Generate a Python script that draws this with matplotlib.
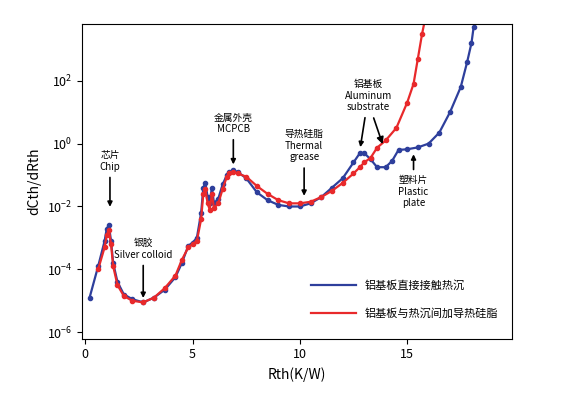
import numpy as np
import matplotlib
matplotlib.use('Agg')
import matplotlib.pyplot as plt
from matplotlib.lines import Line2D

plt.rcParams['font.family'] = ['Noto Sans CJK SC', 'DejaVu Sans']

# blue: aluminium substrate directly on heat sink
bx = [0.2, 0.6, 0.9, 1.0, 1.1, 1.2, 1.3, 1.5, 1.8, 2.2, 2.7, 3.2, 3.7, 4.2, 4.5, 4.8, 5.0, 5.2,
      5.4, 5.5, 5.6, 5.7, 5.8, 5.9, 6.0, 6.2, 6.4, 6.6, 6.7, 6.9, 7.1, 7.5, 8.0, 8.5, 9.0, 9.5,
      10.0, 10.5, 11.0, 11.5, 12.0, 12.5, 12.8, 13.0, 13.3, 13.6, 14.0, 14.3, 14.6, 15.0, 15.5,
      16.0, 16.5, 17.0, 17.5, 17.8, 18.0, 18.1]
by_log = [-4.9, -3.9, -3.1, -2.7, -2.6, -3.1, -3.8, -4.4, -4.8, -4.95, -5.05, -4.9, -4.65, -4.25,
          -3.8, -3.25, -3.15, -3.0, -2.2, -1.4, -1.25, -1.7, -1.9, -1.4, -1.9, -1.75, -1.3, -1.0,
          -0.9, -0.85, -0.9, -1.1, -1.55, -1.8, -1.95, -2.0, -2.0, -1.9, -1.7, -1.4, -1.1, -0.6,
          -0.3, -0.3, -0.5, -0.75, -0.75, -0.55, -0.2, -0.18, -0.12, 0.0, 0.35, 1.0, 1.8, 2.6,
          3.2, 3.7]

# red: aluminium substrate + thermal grease
rx = [0.6, 0.9, 1.0, 1.1, 1.2, 1.3, 1.5, 1.8, 2.2, 2.7, 3.2, 3.7, 4.2, 4.5, 4.8, 5.0, 5.2,
      5.4, 5.5, 5.6, 5.7, 5.8, 5.9, 6.0, 6.2, 6.4, 6.6, 6.7, 6.9, 7.1, 7.5, 8.0, 8.5, 9.0, 9.5,
      10.0, 10.5, 11.0, 11.5, 12.0, 12.5, 12.8, 13.0, 13.3, 13.6, 14.0, 14.5, 15.0, 15.3, 15.5,
      15.7, 15.85]
ry_log = [-4.0, -3.3, -2.9, -2.75, -3.2, -3.9, -4.5, -4.85, -5.0, -5.05, -4.9, -4.6, -4.2,
          -3.7, -3.3, -3.2, -3.1, -2.4, -1.6, -1.45, -1.9, -2.1, -1.6, -2.05, -1.9, -1.45, -1.05,
          -0.95, -0.9, -0.95, -1.05, -1.35, -1.6, -1.8, -1.9, -1.9, -1.85, -1.7, -1.5, -1.25,
          -0.95, -0.75, -0.6, -0.45, -0.13, 0.1, 0.5, 1.3, 1.9, 2.7, 3.5, 4.0]

labels = ['铝基板直接接触热沉', '铝基板与热沉间加导热硅脂']
blue = '#2e3f9c'
red = '#e8292b'

fig, ax = plt.subplots(figsize=(5.66, 4.03), dpi=100)
fig.subplots_adjust(left=0.145, right=0.905, top=0.94, bottom=0.16)
ax.plot(bx, 10 ** np.array(by_log), '-o', color=blue, ms=3, lw=1.6)
ax.plot(rx, 10 ** np.array(ry_log), '-o', color=red, ms=3, lw=1.6)
ax.set_yscale('log')
ax.set_xlim(-0.15, 19.9)
ax.set_ylim(10 ** -6.2, 10 ** 3.8)
ax.set_xticks([0, 5, 10, 15])
ax.set_yticks([1e-6, 1e-4, 1e-2, 1, 1e2])
ax.minorticks_off()
ax.set_xlabel('Rth(K/W)', fontsize=10)
ax.set_ylabel('dCth/dRth', fontsize=10)
ax.tick_params(labelsize=9)

ann = [('芯片\nChip', 1.15, 10 ** -2.1, 1.15, 10 ** -0.9),
       ('银胶\nSilver colloid', 2.7, 10 ** -5.0, 2.7, 10 ** -3.7),
       ('金属外壳\nMCPCB', 6.9, 10 ** -0.75, 6.9, 10 ** 0.3),
       ('导热硅脂\nThermal\ngrease', 10.2, 10 ** -1.75, 10.2, 10 ** -0.6),
       ('铝基板\nAluminum\nsubstrate', 12.8, 10 ** -0.2, 13.2, 10 ** 1.0),
       ('塑料片\nPlastic\nplate', 15.3, 10 ** -0.25, 15.3, 10 ** -1.0)]
for txt, x0, y0, tx, ty in ann:
    ax.annotate(txt, xy=(x0, y0), xytext=(tx, ty), ha='center',
                va='top' if ty < y0 else 'bottom', fontsize=7,
                arrowprops=dict(arrowstyle='-|>', color='black', lw=1.2))
ax.annotate('', xy=(13.9, 10 ** -0.1), xytext=(13.4, 10 ** 0.9),
            arrowprops=dict(arrowstyle='-|>', color='black', lw=1.2))

handles = [Line2D([], [], color=blue, lw=1.6), Line2D([], [], color=red, lw=1.6)]
ax.legend(handles, labels, loc='lower right', bbox_to_anchor=(0.99, 0.03), frameon=False,
          fontsize=8, handlelength=4, labelspacing=1.6)
fig.savefig('out.png', dpi=100)
